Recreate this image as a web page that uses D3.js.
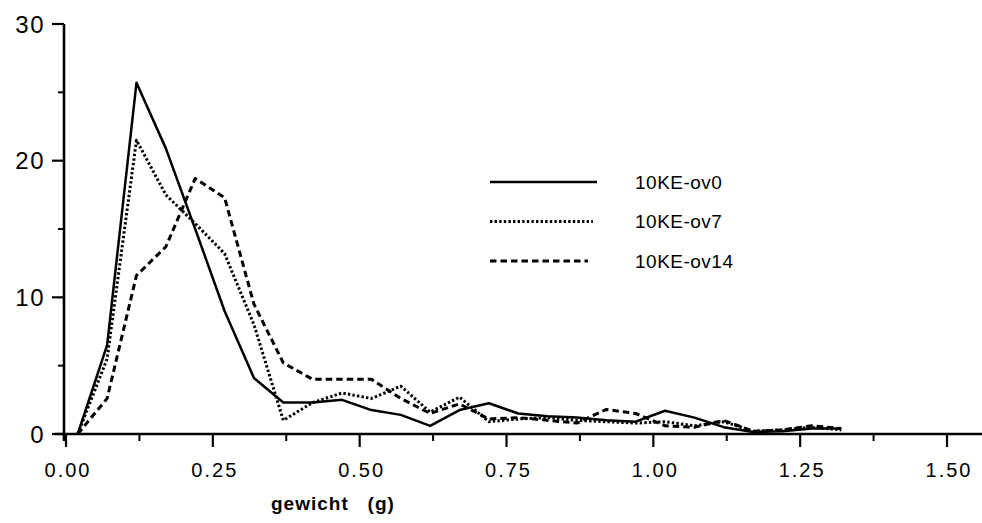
<!DOCTYPE html>
<html>
<head>
<meta charset="utf-8">
<script src="https://cdn.jsdelivr.net/npm/d3@7"></script>
<style>
  body { margin: 0; background: #fff; }
  svg { display: block; }
  text { font-family: "Liberation Sans", Arial, sans-serif; fill: #000; }
</style>
</head>
<body>
<svg id="chart" width="982" height="523"></svg>
<script>
// bin centres (g)
const gewicht = [0.02, 0.07, 0.12, 0.17, 0.22, 0.27, 0.32, 0.37, 0.42, 0.47, 0.52, 0.57, 0.62, 0.67,
  0.72, 0.77, 0.82, 0.87, 0.92, 0.97, 1.02, 1.07, 1.12, 1.17, 1.22, 1.27, 1.32]
const ov0 = [0, 6.5, 25.7, 20.9, 15, 9, 4.1, 2.3, 2.3, 2.5, 1.75, 1.4, 0.6, 1.75,
  2.25, 1.5, 1.3, 1.2, 1.0, 0.9, 1.7, 1.2, 0.5, 0.15, 0.2, 0.4, 0.4]
const ov7 = [0, 5.5, 21.5, 17.5, 15.4, 13.2, 8, 1.0, 2.3, 3.0, 2.6, 3.5, 1.6, 2.7,
  0.9, 1.1, 1.2, 1.0, 0.9, 0.8, 0.9, 0.6, 0.9, 0.2, 0.3, 0.5, 0.3]
const ov14 = [0, 2.6, 11.6, 13.7, 18.7, 17.3, 9.5, 5.2, 4.0, 4.0, 4.0, 2.6, 1.5, 2.2,
  1.1, 1.2, 1.0, 0.8, 1.8, 1.5, 0.6, 0.5, 1.0, 0.2, 0.3, 0.6, 0.4]

const seriesNames = ['10KE-ov0', '10KE-ov7', '10KE-ov14']
const seriesValues = [ov0, ov7, ov14]
const dashes = [null, '2.4,2.2', '6.5,4']
const widths = [2.5, 3, 3]

const xTicks = [0, 0.25, 0.5, 0.75, 1.0, 1.25, 1.5]
const yTicks = [0, 10, 20, 30]

const svg = d3.select('#chart')

const x = d3.scaleLinear().domain([0, 1.5]).range([66, 947])
const y = d3.scaleLinear().domain([0, 30]).range([434, 24])

// y axis
const yAxis = svg.append('g')
yAxis.append('line')
    .attr('x1', 64).attr('x2', 64)
    .attr('y1', y(30)).attr('y2', 441)
    .attr('stroke', '#000').attr('stroke-width', 2.6)
yAxis.selectAll('line.major')
  .data(yTicks)
  .join('line')
    .attr('class', 'major')
    .attr('x1', 52).attr('x2', 64)
    .attr('y1', d => y(d)).attr('y2', d => y(d))
    .attr('stroke', '#000').attr('stroke-width', 2.2)
yAxis.selectAll('line.minor')
  .data([5, 15, 25])
  .join('line')
    .attr('class', 'minor')
    .attr('x1', 58).attr('x2', 64)
    .attr('y1', d => y(d)).attr('y2', d => y(d))
    .attr('stroke', '#000').attr('stroke-width', 2)
yAxis.selectAll('text')
  .data(yTicks)
  .join('text')
    .attr('x', 45)
    .attr('y', d => y(d))
    .attr('dy', '0.36em')
    .attr('text-anchor', 'end')
    .style('font-size', '24px')
    .style('letter-spacing', '1.5px')
    .text(d => d)

// x axis
const xAxis = svg.append('g')
xAxis.append('line')
    .attr('x1', 55).attr('x2', 982)
    .attr('y1', 434).attr('y2', 434)
    .attr('stroke', '#000').attr('stroke-width', 2.6)
xAxis.selectAll('line.major')
  .data(xTicks)
  .join('line')
    .attr('class', 'major')
    .attr('x1', d => x(d)).attr('x2', d => x(d))
    .attr('y1', 434).attr('y2', 447)
    .attr('stroke', '#000').attr('stroke-width', 2.2)
xAxis.selectAll('line.minor')
  .data(d3.range(0.125, 1.5, 0.25))
  .join('line')
    .attr('class', 'minor')
    .attr('x1', d => x(d)).attr('x2', d => x(d))
    .attr('y1', 434).attr('y2', 441)
    .attr('stroke', '#000').attr('stroke-width', 2)
xAxis.selectAll('text')
  .data(xTicks)
  .join('text')
    .attr('x', d => x(d) + 2)
    .attr('y', 470)
    .attr('dy', '0.36em')
    .attr('text-anchor', 'middle')
    .style('font-size', '20px')
    .style('letter-spacing', '2px')
    .text(d3.format('.2f'))

svg.append('text')
    .attr('x', 271)
    .attr('y', 503)
    .attr('dy', '0.36em')
    .style('font-size', '19px')
    .style('font-weight', 'bold')
    .style('letter-spacing', '1px')
    .attr('xml:space', 'preserve')
    .text('gewicht   (g)')

// lines
const line = d3.line()
    .x((d, i) => x(gewicht[i]))
    .y(d => y(d))

svg.selectAll('path.serie')
  .data(seriesValues)
  .join('path')
    .attr('class', 'serie')
    .attr('d', line)
    .attr('fill', 'none')
    .attr('stroke', '#000')
    .attr('stroke-width', (d, i) => widths[i])
    .attr('stroke-dasharray', (d, i) => dashes[i])
    .attr('stroke-linejoin', 'round')

// legend
const legend = svg.append('g')
    .attr('class', 'legend')
    .attr('transform', 'translate(490,182)')
legend.selectAll('line')
  .data(seriesNames)
  .join('line')
    .attr('x1', 0).attr('x2', (d, i) => [107, 103, 98][i])
    .attr('y1', (d, i) => i * 39.5).attr('y2', (d, i) => i * 39.5)
    .attr('stroke', '#000')
    .attr('stroke-width', (d, i) => widths[i])
    .attr('stroke-dasharray', (d, i) => dashes[i])
legend.selectAll('text')
  .data(seriesNames)
  .join('text')
    .attr('x', 145)
    .attr('y', (d, i) => i * 39.5)
    .attr('dy', '0.36em')
    .style('font-size', '19px')
    .style('letter-spacing', '0.5px')
    .text(d => d)
</script>
</body>
</html>
